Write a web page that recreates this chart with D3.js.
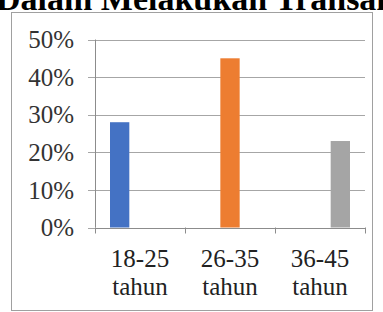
<!DOCTYPE html>
<html>
<head>
<meta charset="utf-8">
<script src="https://cdn.jsdelivr.net/npm/d3@7"></script>
<style>
  html, body { margin: 0; padding: 0; background: #fff; }
  svg { display: block; }
  text { font-family: 'Liberation Serif', 'Times New Roman', serif; }
</style>
</head>
<body>
<div id="chart"></div>
<script>
// age groups on the x axis (two lines each)
var categories = ['18-25 tahun', '26-35 tahun', '36-45 tahun'];
// one series per age group, as in the original spreadsheet
var seriesNames = ['18-25 tahun', '26-35 tahun', '36-45 tahun'];
var seriesValues = [
    [28, 0, 0],
    [0, 45, 0],
    [0, 0, 23]
];
var seriesColors = ['#4472C4', '#ED7D31', '#A5A5A5'];
var yTicks = [0, 10, 20, 30, 40, 50];
var title = 'Dalam Melakukan Transaksi';

var width = 383, height = 312;
var plot = { left: 95, right: 365, top: 39.5, bottom: 227.5 };

var svg = d3.select('#chart').append('svg')
    .attr('width', width)
    .attr('height', height);

// title of the page, clipped at the top
svg.append('text')
    .attr('x', -4)
    .attr('y', 10)
    .style('font-weight', 'bold')
    .style('font-size', '34px')
    .attr('fill', '#000')
    .text(title);

// chart frame
svg.append('rect')
    .attr('x', 11.5)
    .attr('y', 12.5)
    .attr('width', 361)
    .attr('height', 298)
    .attr('fill', 'none')
    .attr('stroke', '#a0a0a0');

var x = d3.scaleBand()
    .domain(categories)
    .range([plot.left, plot.right]);

var xInner = d3.scaleBand()
    .domain(seriesNames)
    .range([15, 75])
    .paddingInner(0.05);

var y = d3.scaleLinear()
    .domain([0, 50])
    .range([plot.bottom, plot.top]);

// gridlines
svg.append('g')
    .selectAll('line')
    .data(yTicks)
    .enter().append('line')
    .attr('x1', plot.left - 7)
    .attr('x2', plot.right)
    .attr('y1', function(d) { return Math.round(y(d)) + 0.5; })
    .attr('y2', function(d) { return Math.round(y(d)) + 0.5; })
    .attr('stroke', '#a6a6a6');

// y labels
svg.append('g')
    .selectAll('text')
    .data(yTicks)
    .enter().append('text')
    .attr('x', 74)
    .attr('y', function(d) { return y(d); })
    .attr('dy', '0.35em')
    .attr('text-anchor', 'end')
    .style('font-size', '25px')
    .attr('fill', '#333')
    .text(function(d) { return d + '%'; });

// bars
var groups = svg.append('g')
    .selectAll('g')
    .data(seriesNames)
    .enter().append('g')
    .attr('fill', function(d, i) { return seriesColors[i]; });

groups.selectAll('rect')
    .data(function(s, si) {
        return seriesValues[si].map(function(v, ci) {
            return { series: s, category: categories[ci], value: v };
        });
    })
    .enter().append('rect')
    .attr('x', function(d) { return x(d.category) + xInner(d.series); })
    .attr('y', function(d) { return y(d.value); })
    .attr('width', xInner.bandwidth())
    .attr('height', function(d) { return y(0) - y(d.value); });

// y axis line
svg.append('line')
    .attr('x1', plot.left + 0.5)
    .attr('x2', plot.left + 0.5)
    .attr('y1', y(50))
    .attr('y2', y(0))
    .attr('stroke', '#8c8c8c');

// x axis line and ticks
svg.append('line')
    .attr('x1', plot.left)
    .attr('x2', plot.right)
    .attr('y1', Math.round(y(0)) + 0.5)
    .attr('y2', Math.round(y(0)) + 0.5)
    .attr('stroke', '#8c8c8c');

var tickXs = categories.map(function(c) { return x(c); }).concat([plot.right]);
svg.append('g')
    .selectAll('line')
    .data(tickXs)
    .enter().append('line')
    .attr('x1', function(d) { return Math.round(d) + 0.5; })
    .attr('x2', function(d) { return Math.round(d) + 0.5; })
    .attr('y1', y(0))
    .attr('y2', y(0) + 6)
    .attr('stroke', '#8c8c8c');

// x labels, two lines
var xLabels = svg.append('g')
    .selectAll('text')
    .data(categories)
    .enter().append('text')
    .attr('x', function(d) { return x(d) + x.bandwidth() / 2; })
    .attr('y', 267)
    .attr('text-anchor', 'middle')
    .style('font-size', '25px')
    .attr('fill', '#222');

xLabels.selectAll('tspan')
    .data(function(d) { return d.split(' '); })
    .enter().append('tspan')
    .attr('x', function() { return d3.select(this.parentNode).attr('x'); })
    .attr('dy', function(d, i) { return i === 0 ? 0 : 28; })
    .text(function(d) { return d; });
</script>
</body>
</html>
